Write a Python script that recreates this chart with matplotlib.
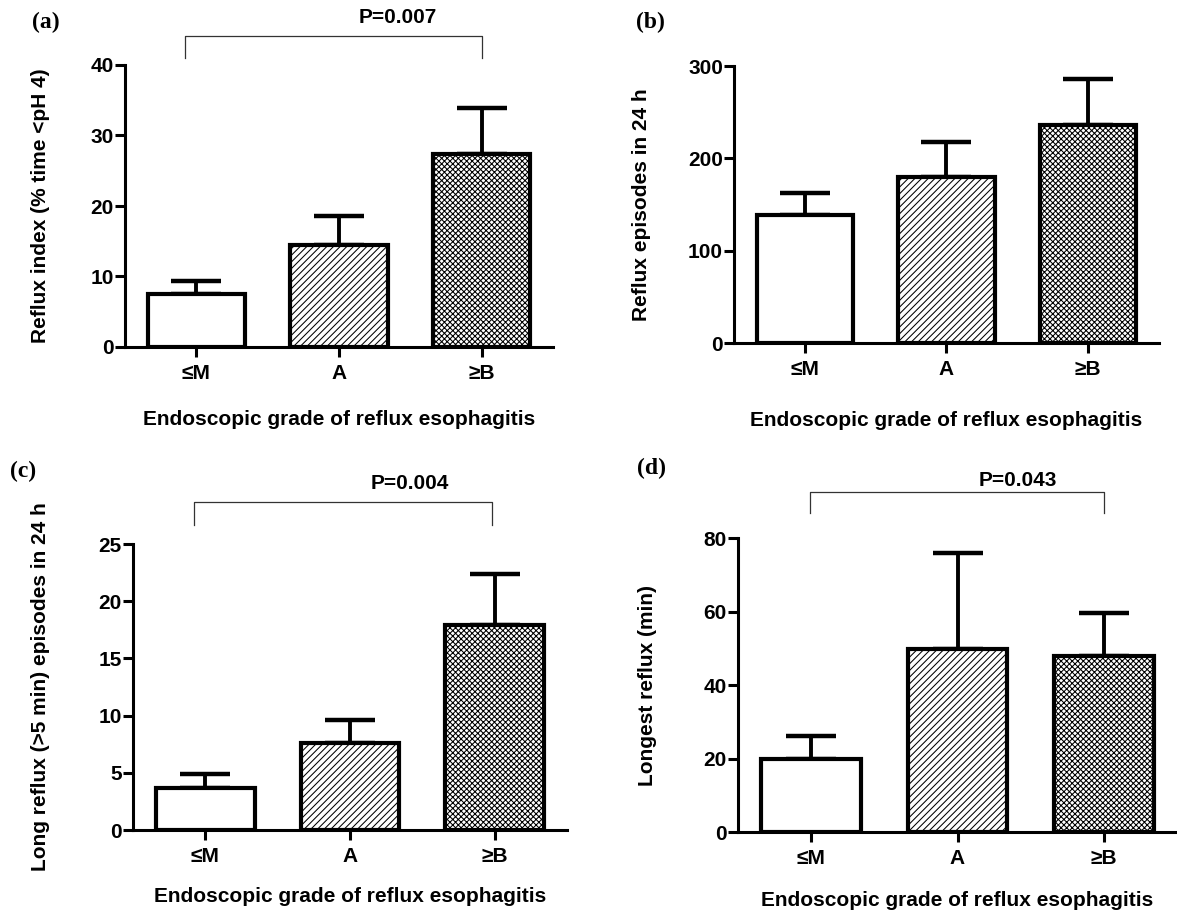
"""Four-panel bar chart: 24-h pH monitoring parameters by endoscopic grade
of reflux esophagitis (mean + SEM, upper error bars only)."""

import matplotlib.pyplot as plt
from matplotlib.transforms import blended_transform_factory

plt.rcParams["font.family"] = ["Liberation Sans", "DejaVu Sans"]
plt.rcParams["font.weight"] = "bold"

GRADES = ["≤M", "A", "≥B"]
XLABEL = "Endoscopic grade of reflux esophagitis"

# (a) reflux index
INDEX_MEAN = [7.5, 14.5, 27.4]
INDEX_SEM = [1.8, 4.1, 6.5]
# (b) reflux episodes in 24 h
EPISODES_MEAN = [139, 180, 236]
EPISODES_SEM = [23, 38, 50]
# (c) long reflux episodes
LONG_MEAN = [3.7, 7.6, 17.9]
LONG_SEM = [1.2, 2.0, 4.5]
# (d) longest reflux
LONGEST_MEAN = [20, 49.8, 48]
LONGEST_SEM = [6, 26, 11.7]

HATCHES = ["", "/////", "xxxxxx"]
HATCH_LW = [0.75, 0.75, 0.75]

PANELS = [
    # label, mean, sem, ylabel, yticks, p-value, axes rect, ylabel x, xlabel y, bracket
    ("(a)", INDEX_MEAN, INDEX_SEM, "Reflux index (% time <pH 4)",
     [0, 10, 20, 30, 40], "P=0.007",
     [125 / 1177, 1 - 347 / 913, 428 / 1177, 282 / 913], -0.175, -0.225,
     (-0.08, 2.0, 1.103, 1.025, 1.167)),
    ("(b)", EPISODES_MEAN, EPISODES_SEM, "Reflux episodes in 24 h",
     [0, 100, 200, 300], None,
     [734 / 1177, 1 - 343 / 913, 425 / 1177, 277 / 913], -0.195, -0.245,
     None),
    ("(c)", LONG_MEAN, LONG_SEM, "Long reflux (>5 min) episodes in 24 h",
     [0, 5, 10, 15, 20, 25], "P=0.004",
     [133 / 1177, 1 - 830 / 913, 434 / 1177, 286 / 913], -0.191, -0.2,
     (-0.08, 1.98, 1.147, 1.066, 1.213)),
    ("(d)", LONGEST_MEAN, LONGEST_SEM, "Longest reflux (min)",
     [0, 20, 40, 60, 80], "P=0.043",
     [738 / 1177, 1 - 832 / 913, 439 / 1177, 294 / 913], -0.184, -0.2,
     (-0.01, 2.0, 1.156, 1.085, 1.197)),
]

LABEL_POS = {"(a)": (32, 22), "(b)": (636, 22), "(c)": (10, 471), "(d)": (637, 468)}


def draw_panel(fig, label, mean, sem, ylabel, yticks, pval, rect, ylx, xly, bracket):
    ax = fig.add_axes(rect)
    x = range(len(GRADES))
    for i in x:
        with plt.rc_context({"hatch.linewidth": HATCH_LW[i]}):
            ax.bar(i, mean[i], 0.68, color="white", edgecolor="black",
                   linewidth=3, hatch=HATCHES[i], zorder=3)
    ax.errorbar(list(x), mean, yerr=[[0] * len(mean), sem], fmt="none",
                ecolor="black", elinewidth=2.8, capsize=18, capthick=3.2,
                zorder=2)

    ax.set_xlim(-0.5, 2.5)
    ax.set_ylim(0, yticks[-1])
    ax.set_yticks(yticks)
    ax.set_xticks(list(x))
    ax.set_xticklabels(GRADES)
    for s in ("top", "right"):
        ax.spines[s].set_visible(False)
    for s in ("left", "bottom"):
        ax.spines[s].set_linewidth(2.2)
    ax.tick_params(axis="y", length=7, width=2.2, labelsize=15, pad=1)
    ax.tick_params(axis="x", length=7, width=2.2, labelsize=15, pad=5)

    ax.set_ylabel(ylabel, fontsize=15, fontweight="bold")
    ax.yaxis.set_label_coords(ylx, 0.5)
    ax.set_xlabel(XLABEL, fontsize=15, fontweight="bold")
    ax.xaxis.set_label_coords(0.5, xly)

    if bracket is not None:
        x0, x1, ytop, ybot, ytxt = bracket
        tr = blended_transform_factory(ax.transData, ax.transAxes)
        ax.plot([x0, x0, x1, x1], [ybot, ytop, ytop, ybot], color="#333333",
                linewidth=0.9, transform=tr, clip_on=False)
        ax.text(1.41, ytxt, pval, transform=tr, ha="center", va="center",
                fontsize=15, fontweight="bold")

    lx, ly = LABEL_POS[label]
    fig.text(lx / 1177, 1 - ly / 913, label, ha="left", va="center",
             fontsize=17, fontweight="bold", family="Liberation Serif")


def main():
    fig = plt.figure(figsize=(11.77, 9.13), dpi=100)
    for p in PANELS:
        draw_panel(fig, *p)
    fig.savefig("out.png", dpi=100)


if __name__ == "__main__":
    main()
